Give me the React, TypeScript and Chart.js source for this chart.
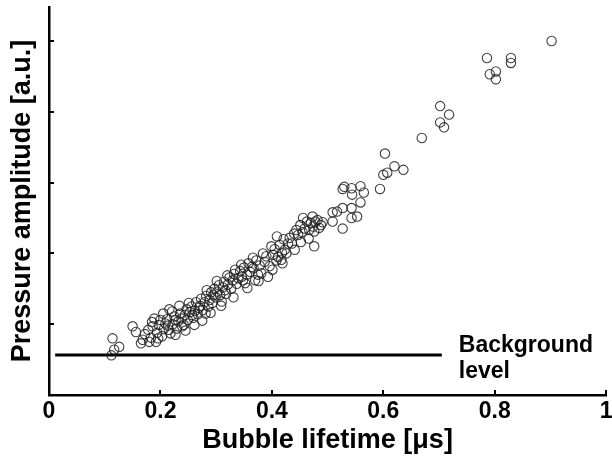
import React, { useEffect, useRef } from "react";
import { Chart, registerables } from "chart.js";

Chart.register(...registerables);

// Bubble lifetime [µs] and pressure amplitude [a.u.] of every measured bubble
const lifetimeUs = [
  0.112, 0.114, 0.126, 0.117, 0.150, 0.156, 0.168, 0.165, 0.180, 0.192,
  0.189, 0.200, 0.209, 0.221, 0.227, 0.215, 0.227, 0.239, 0.251, 0.257,
  0.269, 0.281, 0.283, 0.295, 0.310, 0.316, 0.334, 0.346, 0.352, 0.364,
  0.370, 0.381, 0.393, 0.384, 0.399, 0.411, 0.423, 0.429,
  0.172, 0.178, 0.183, 0.186, 0.194, 0.197, 0.203, 0.206, 0.212, 0.214,
  0.218, 0.222, 0.225, 0.229, 0.232, 0.235, 0.238, 0.242, 0.244, 0.247,
  0.249, 0.253, 0.256, 0.259, 0.262, 0.264, 0.267, 0.271, 0.273, 0.276,
  0.279, 0.282, 0.286, 0.288, 0.291, 0.293, 0.297, 0.299, 0.302, 0.305,
  0.307, 0.312, 0.314, 0.318, 0.321, 0.324, 0.327, 0.330, 0.332, 0.337,
  0.340, 0.343, 0.348, 0.350, 0.355, 0.358, 0.361, 0.367, 0.372, 0.375,
  0.378, 0.387, 0.390, 0.396, 0.402, 0.405, 0.408, 0.414, 0.418, 0.421,
  0.426, 0.432, 0.436, 0.440, 0.444, 0.447, 0.451, 0.455, 0.459, 0.463,
  0.205, 0.216, 0.234, 0.245, 0.261, 0.275, 0.290, 0.301, 0.309, 0.320,
  0.331, 0.345, 0.356, 0.366, 0.376, 0.401, 0.409, 0.419, 0.441, 0.452,
  0.456, 0.466, 0.196, 0.185,
  0.603, 0.620, 0.636, 0.600, 0.607, 0.594, 0.530, 0.527, 0.543, 0.559,
  0.565, 0.544, 0.559, 0.543, 0.553, 0.543, 0.527, 0.517, 0.509, 0.527,
  0.509, 0.473, 0.482, 0.488, 0.470, 0.467, 0.476, 0.476, 0.478, 0.485,
  0.474, 0.491, 0.417,
  0.669, 0.702, 0.718, 0.702, 0.709, 0.786, 0.829, 0.829, 0.791, 0.802,
  0.802, 0.902,
];

const pressureAu = [
  0.56, 0.80, 0.68, 0.64, 0.97, 0.89, 0.78, 0.73, 0.75, 0.75,
  1.08, 1.06, 1.01, 1.18, 1.06, 0.92, 0.85, 0.97, 1.30, 1.13,
  1.23, 1.15, 1.48, 1.41, 1.32, 1.48, 1.77, 1.67, 1.58, 1.81,
  1.62, 1.72, 1.67, 2.00, 2.10, 1.95, 2.05, 2.14,
  0.86, 0.92, 0.81, 0.97, 0.88, 0.99, 0.83, 0.93, 1.07, 0.98,
  0.87, 1.00, 1.11, 0.94, 1.04, 1.15, 1.08, 0.99, 1.13, 1.21,
  1.06, 1.17, 1.25, 1.09, 1.19, 1.31, 1.14, 1.26, 1.36, 1.20,
  1.31, 1.40, 1.25, 1.34, 1.45, 1.30, 1.50, 1.38, 1.46, 1.55,
  1.41, 1.52, 1.60, 1.43, 1.56, 1.66, 1.50, 1.62, 1.71, 1.57,
  1.65, 1.75, 1.62, 1.80, 1.70, 1.86, 1.74, 1.79, 1.90, 1.70,
  1.83, 1.88, 1.96, 1.82, 1.98, 2.06, 1.90, 2.12, 2.01, 2.20,
  2.00, 2.22, 2.14, 2.28, 2.33, 2.26, 2.40, 2.30, 2.35, 2.45,
  1.15, 1.21, 1.26, 0.91, 0.99, 1.05, 1.16, 1.61, 1.26, 1.69,
  1.38, 1.84, 1.51, 1.94, 1.61, 1.77, 2.24, 1.86, 2.05, 2.16,
  2.50, 2.21, 0.80, 1.03,
  3.41, 3.23, 3.18, 3.11, 3.14, 2.91, 2.94, 2.91, 2.92, 2.95,
  2.86, 2.83, 2.72, 2.64, 2.52, 2.50, 2.64, 2.59, 2.58, 2.35,
  2.45, 2.52, 2.47, 2.40, 2.43, 2.33, 2.31, 2.10, 2.45, 2.36,
  2.38, 2.44, 1.91,
  3.63, 4.08, 3.96, 3.85, 3.78, 4.76, 4.76, 4.69, 4.53, 4.57,
  4.46, 5.00,
];

const backgroundX = [0.011, 0.705];
const backgroundY = [0.565, 0.565];
const backgroundLabel = ["Background", "level"];

const xTickMarks = [0.2, 0.4, 0.6, 0.8, 1];
const yTickMarks = [1, 2, 3, 4, 5];

const xTitle = "Bubble lifetime [\u03bcs]";
const yTitle = "Pressure amplitude [a.u.]";

const FONT = '"Liberation Sans", Arial, Helvetica, sans-serif';

const annotations = {
  id: "annotations",
  afterDatasetsDraw(chart: any) {
    const { ctx, chartArea } = chart;
    const x = chart.scales.x;
    const y = chart.scales.y;
    ctx.save();
    ctx.strokeStyle = "#000";
    ctx.lineWidth = 2;
    for (const v of xTickMarks) {
      const px = Math.round(x.getPixelForValue(v));
      ctx.beginPath();
      ctx.moveTo(px, chartArea.bottom);
      ctx.lineTo(px, chartArea.bottom - 5);
      ctx.stroke();
    }
    for (const v of yTickMarks) {
      const py = Math.round(y.getPixelForValue(v));
      ctx.beginPath();
      ctx.moveTo(chartArea.left, py);
      ctx.lineTo(chartArea.left + 5, py);
      ctx.stroke();
    }
    ctx.fillStyle = "#000";
    ctx.font = `bold 23px ${FONT}`;
    ctx.textAlign = "left";
    ctx.textBaseline = "alphabetic";
    const lx = x.getPixelForValue(backgroundX[1]) + 17;
    const ly = y.getPixelForValue(backgroundY[0]);
    ctx.fillText(backgroundLabel[0], lx, ly - 3);
    ctx.fillText(backgroundLabel[1], lx, ly + 23);
    ctx.restore();
  },
};

export default function App() {
  const ref = useRef<HTMLCanvasElement | null>(null);

  useEffect(() => {
    if (!ref.current) return;
    const points = lifetimeUs.map((v, i) => ({ x: v, y: pressureAu[i] }));
    const bgLine = backgroundX.map((v, i) => ({ x: v, y: backgroundY[i] }));
    const chart = new Chart(ref.current, {
      type: "scatter",
      data: {
        datasets: [
          {
            type: "line",
            data: bgLine,
            borderColor: "#000",
            borderWidth: 3,
            pointRadius: 0,
            fill: false,
            order: 2,
          } as any,
          {
            data: points,
            pointStyle: "circle",
            pointRadius: 4.7,
            pointBorderWidth: 1.1,
            borderColor: "rgba(30,30,30,0.85)",
            backgroundColor: "rgba(0,0,0,0)",
            order: 1,
          } as any,
        ],
      },
      options: {
        animation: false,
        responsive: false,
        events: [],
        layout: { padding: { top: 7, right: 1.5, left: 0, bottom: 0 } },
        plugins: {
          legend: { display: false },
          tooltip: { enabled: false },
        },
        scales: {
          x: {
            type: "linear",
            min: 0,
            max: 1,
            afterFit: (s: any) => {
              s.height = 65;
              s.paddingLeft = 0;
              s.paddingRight = 0;
            },
            ticks: {
              stepSize: 0.2,
              padding: 3,
              color: "#000",
              font: { family: FONT, size: 23, weight: "bold" },
              maxRotation: 0,
              autoSkip: false,
              callback: (v: any) => String(Math.round(Number(v) * 10) / 10),
            },
            grid: { display: false, drawTicks: false },
            border: { display: true, color: "#000", width: 2.5 },
            title: {
              display: true,
              text: xTitle,
              color: "#000",
              font: { family: FONT, size: 27, weight: "bold" },
              padding: { top: 0, bottom: 3 },
            },
          },
          y: {
            type: "linear",
            min: 0,
            max: 5.48,
            afterFit: (s: any) => {
              s.width = 49;
              s.paddingTop = 0;
              s.paddingBottom = 0;
            },
            ticks: { display: false, stepSize: 1 },
            grid: { display: false, drawTicks: false },
            border: { display: true, color: "#000", width: 2.5 },
            title: {
              display: true,
              text: yTitle,
              color: "#000",
              font: { family: FONT, size: 27, weight: "bold" },
              padding: { top: 6, bottom: 0 },
            },
          },
        },
      } as any,
      plugins: [annotations],
    });
    return () => chart.destroy();
  }, []);

  return (
    <div style={{ position: "absolute", left: 0, top: 0, width: 612, height: 460, background: "#fff" }}>
      <canvas ref={ref} width={612} height={460} style={{ display: "block" }} />
    </div>
  );
}
